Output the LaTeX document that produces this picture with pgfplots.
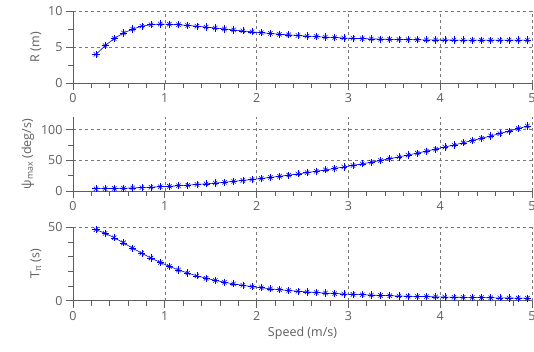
\documentclass[border=0pt]{standalone}
\usepackage{pgfplots}
\pgfplotsset{compat=1.18}
\usepackage{pgfplotstable}
\usepackage{fontspec}
\setmainfont{Open Sans}
\definecolor{axgray}{RGB}{95,95,95}
\definecolor{gridgray}{RGB}{120,120,120}
\definecolor{mblue}{RGB}{0,0,255}

\pgfplotstableread{
V R psi T
0.25 4.00 3.72 48.39
0.35 5.20 3.92 45.92
0.45 6.20 4.20 42.86
0.55 6.95 4.57 39.39
0.65 7.50 5.03 35.79
0.75 7.90 5.57 32.32
0.85 8.10 6.20 29.03
0.95 8.20 6.91 26.05
1.05 8.18 7.71 23.35
1.15 8.10 8.60 20.93
1.25 8.00 9.57 18.81
1.35 7.90 10.63 16.93
1.45 7.78 11.77 15.29
1.55 7.65 13.00 13.85
1.65 7.52 14.32 12.57
1.75 7.38 15.72 11.45
1.85 7.25 17.21 10.46
1.95 7.12 18.78 9.58
2.05 7.00 20.44 8.81
2.15 6.89 22.19 8.11
2.25 6.79 24.02 7.49
2.35 6.70 25.94 6.94
2.45 6.61 27.94 6.44
2.55 6.53 30.03 5.99
2.65 6.46 32.21 5.59
2.75 6.39 34.47 5.22
2.85 6.33 36.82 4.89
2.95 6.27 39.25 4.59
3.05 6.22 41.77 4.31
3.15 6.18 44.38 4.06
3.25 6.14 47.07 3.82
3.35 6.11 49.85 3.61
3.45 6.08 52.71 3.41
3.55 6.06 55.66 3.23
3.65 6.04 58.70 3.07
3.75 6.02 61.82 2.91
3.85 6.01 65.03 2.77
3.95 6.00 68.32 2.63
4.05 5.99 71.70 2.51
4.15 5.98 75.17 2.39
4.25 5.98 78.72 2.29
4.35 5.97 82.36 2.19
4.45 5.97 86.08 2.09
4.55 5.97 89.89 2.00
4.65 5.97 93.79 1.92
4.75 5.97 97.77 1.84
4.85 5.98 101.84 1.77
4.95 5.98 105.99 1.70
}\data

\pgfplotsset{
  panel/.style={
    scale only axis,
    width=459pt,
    xmin=0, xmax=5,
    xtick={0,1,2,3,4,5},
    minor x tick num=4,
    axis lines=left,
    axis line style={-, axgray, line width=0.7pt},
    tick style={axgray, line width=0.7pt},
    major tick length=7pt,
    minor tick length=5pt,
    tick align=outside,
    grid=major,
    major grid style={dashed, gridgray, line width=0.5pt},
    ticklabel style={font=\fontsize{12.5}{14}\selectfont, text=axgray},
    label style={font=\fontsize{12.5}{14}\selectfont, text=axgray},
    /pgf/number format/assume math mode=true,
    clip=false,
  },
  pl/.style={mblue, line width=0.6pt, mark=+, mark size=3.6pt, mark options={solid, line width=0.55pt}},
  px/.style={mblue, only marks, mark=x, mark size=3.1pt, mark options={solid, line width=0.55pt}, forget plot},
}

\begin{document}
\begin{tikzpicture}
\begin{axis}[panel, at={(73pt,-83.3pt)}, anchor=south west, height=72.3pt,
  ymin=0, ymax=10, ytick={0,5,10}, minor y tick num=1,
  ylabel={R (m)}]
\addplot[pl] table[x=V,y=R]{\data};
\addplot[px] table[x=V,y=R]{\data};
\end{axis}
\begin{axis}[panel, at={(73pt,-191pt)}, anchor=south west, height=73.5pt,
  ymin=0, ymax=120, ytick={0,50,100}, minor y tick num=1,
  ylabel={ψ\textsubscript{max} (deg/s)}]
\addplot[pl] table[x=V,y=psi]{\data};
\addplot[px] table[x=V,y=psi]{\data};
\end{axis}
\begin{axis}[panel, at={(73pt,-300.7pt)}, anchor=south west, height=73.4pt,
  ymin=0, ymax=50, ytick={0,50}, minor y tick num=4,
  ylabel={T\textsubscript{π} (s)},
  xlabel={Speed (m/s)}]
\addplot[pl] table[x=V,y=T]{\data};
\addplot[px] table[x=V,y=T]{\data};
\end{axis}
\pgfresetboundingbox
\useasboundingbox (0pt,0pt) rectangle (534pt,-352pt);
\end{tikzpicture}
\end{document}
